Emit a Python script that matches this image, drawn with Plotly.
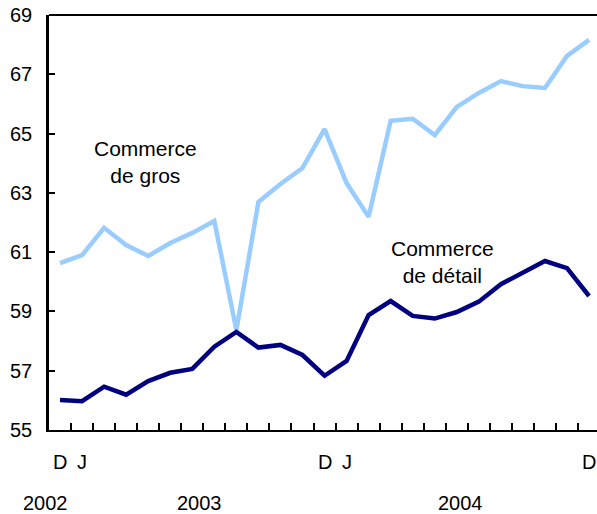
import plotly.graph_objects as go

# Monthly, December 2002 to December 2004
months = list(range(25))
gros = [60.63, 60.9, 61.82, 61.24, 60.87, 61.31, 61.65, 62.05, 58.37, 62.69, 63.3, 63.84,
        65.15, 63.33, 62.19, 65.43, 65.5, 64.95, 65.9, 66.37, 66.77, 66.6, 66.54, 67.62, 68.16]
detail = [56.01, 55.97, 56.46, 56.19, 56.65, 56.93, 57.06, 57.81, 58.31, 57.78, 57.87, 57.53,
          56.83, 57.33, 58.88, 59.35, 58.85, 58.76, 58.98, 59.33, 59.92, 60.31, 60.7, 60.46, 59.52]

month_label_pos = [0, 1, 12, 13, 24]
month_labels = ["D", "J", "D", "J", "D"]
year_label_pos = [-0.68, 6.35, 18.15]
year_labels = ["2002", "2003", "2004"]
y_ticks = [55, 57, 59, 61, 63, 65, 67, 69]

FONT = "Liberation Sans, Arial, Helvetica, sans-serif"
X_RANGE = [-0.5, 24.36]

def to_paper(v):
    return (v - X_RANGE[0]) / (X_RANGE[1] - X_RANGE[0])

fig = go.Figure()
fig.add_trace(go.Scatter(x=months, y=gros, mode="lines",
                         line=dict(color="#99ccff", width=4.5), showlegend=False))
fig.add_trace(go.Scatter(x=months, y=detail, mode="lines",
                         line=dict(color="#000080", width=4.5), showlegend=False))

annotations = []
for p, t in zip(month_label_pos, month_labels):
    annotations.append(dict(x=to_paper(p), y=-0.077, xref="paper", yref="paper", text=t, showarrow=False,
                            xanchor="center", yanchor="middle", font=dict(size=20, color="black", family=FONT)))
for p, t in zip(year_label_pos, year_labels):
    annotations.append(dict(x=to_paper(p), y=-0.176, xref="paper", yref="paper", text=t, showarrow=False,
                            xanchor="center", yanchor="middle", font=dict(size=20, color="black", family=FONT)))
annotations.append(dict(x=3.88, y=64.04, xref="x", yref="y", text="Commerce<br>de gros", showarrow=False,
                        xanchor="center", yanchor="middle", font=dict(size=21, color="black", family=FONT)))
annotations.append(dict(x=17.35, y=60.68, xref="x", yref="y", text="Commerce<br>de détail", showarrow=False,
                        xanchor="center", yanchor="middle", font=dict(size=21, color="black", family=FONT)))

fig.update_layout(
    width=597, height=514,
    margin=dict(l=49, r=0, t=15, b=84),
    paper_bgcolor="white", plot_bgcolor="white",
    font=dict(family=FONT, size=20, color="black"),
    annotations=annotations,
    shapes=[dict(type="line", xref="paper", yref="paper", x0=0, x1=1, y0=1, y1=1,
                 line=dict(color="black", width=2))],
    xaxis=dict(range=X_RANGE, showgrid=False, zeroline=False,
               tickvals=[i + 0.5 for i in range(24)], ticks="inside", ticklen=7,
               tickwidth=1.5, tickcolor="black", showticklabels=False,
               showline=True, linecolor="black", linewidth=2),
    yaxis=dict(range=[55, 69], showgrid=False, zeroline=False,
               tickvals=y_ticks, ticktext=[str(v) for v in y_ticks],
               ticks="inside", ticklen=6, tickwidth=1.5, tickcolor="black",
               ticklabelstandoff=10,
               showline=True, linecolor="black", linewidth=2.5,
               tickfont=dict(size=20, family=FONT, color="black")),
)

fig.write_html("out.html", config={"displayModeBar": False},
               post_script="document.body.style.margin='0';document.body.style.overflow='hidden';")
